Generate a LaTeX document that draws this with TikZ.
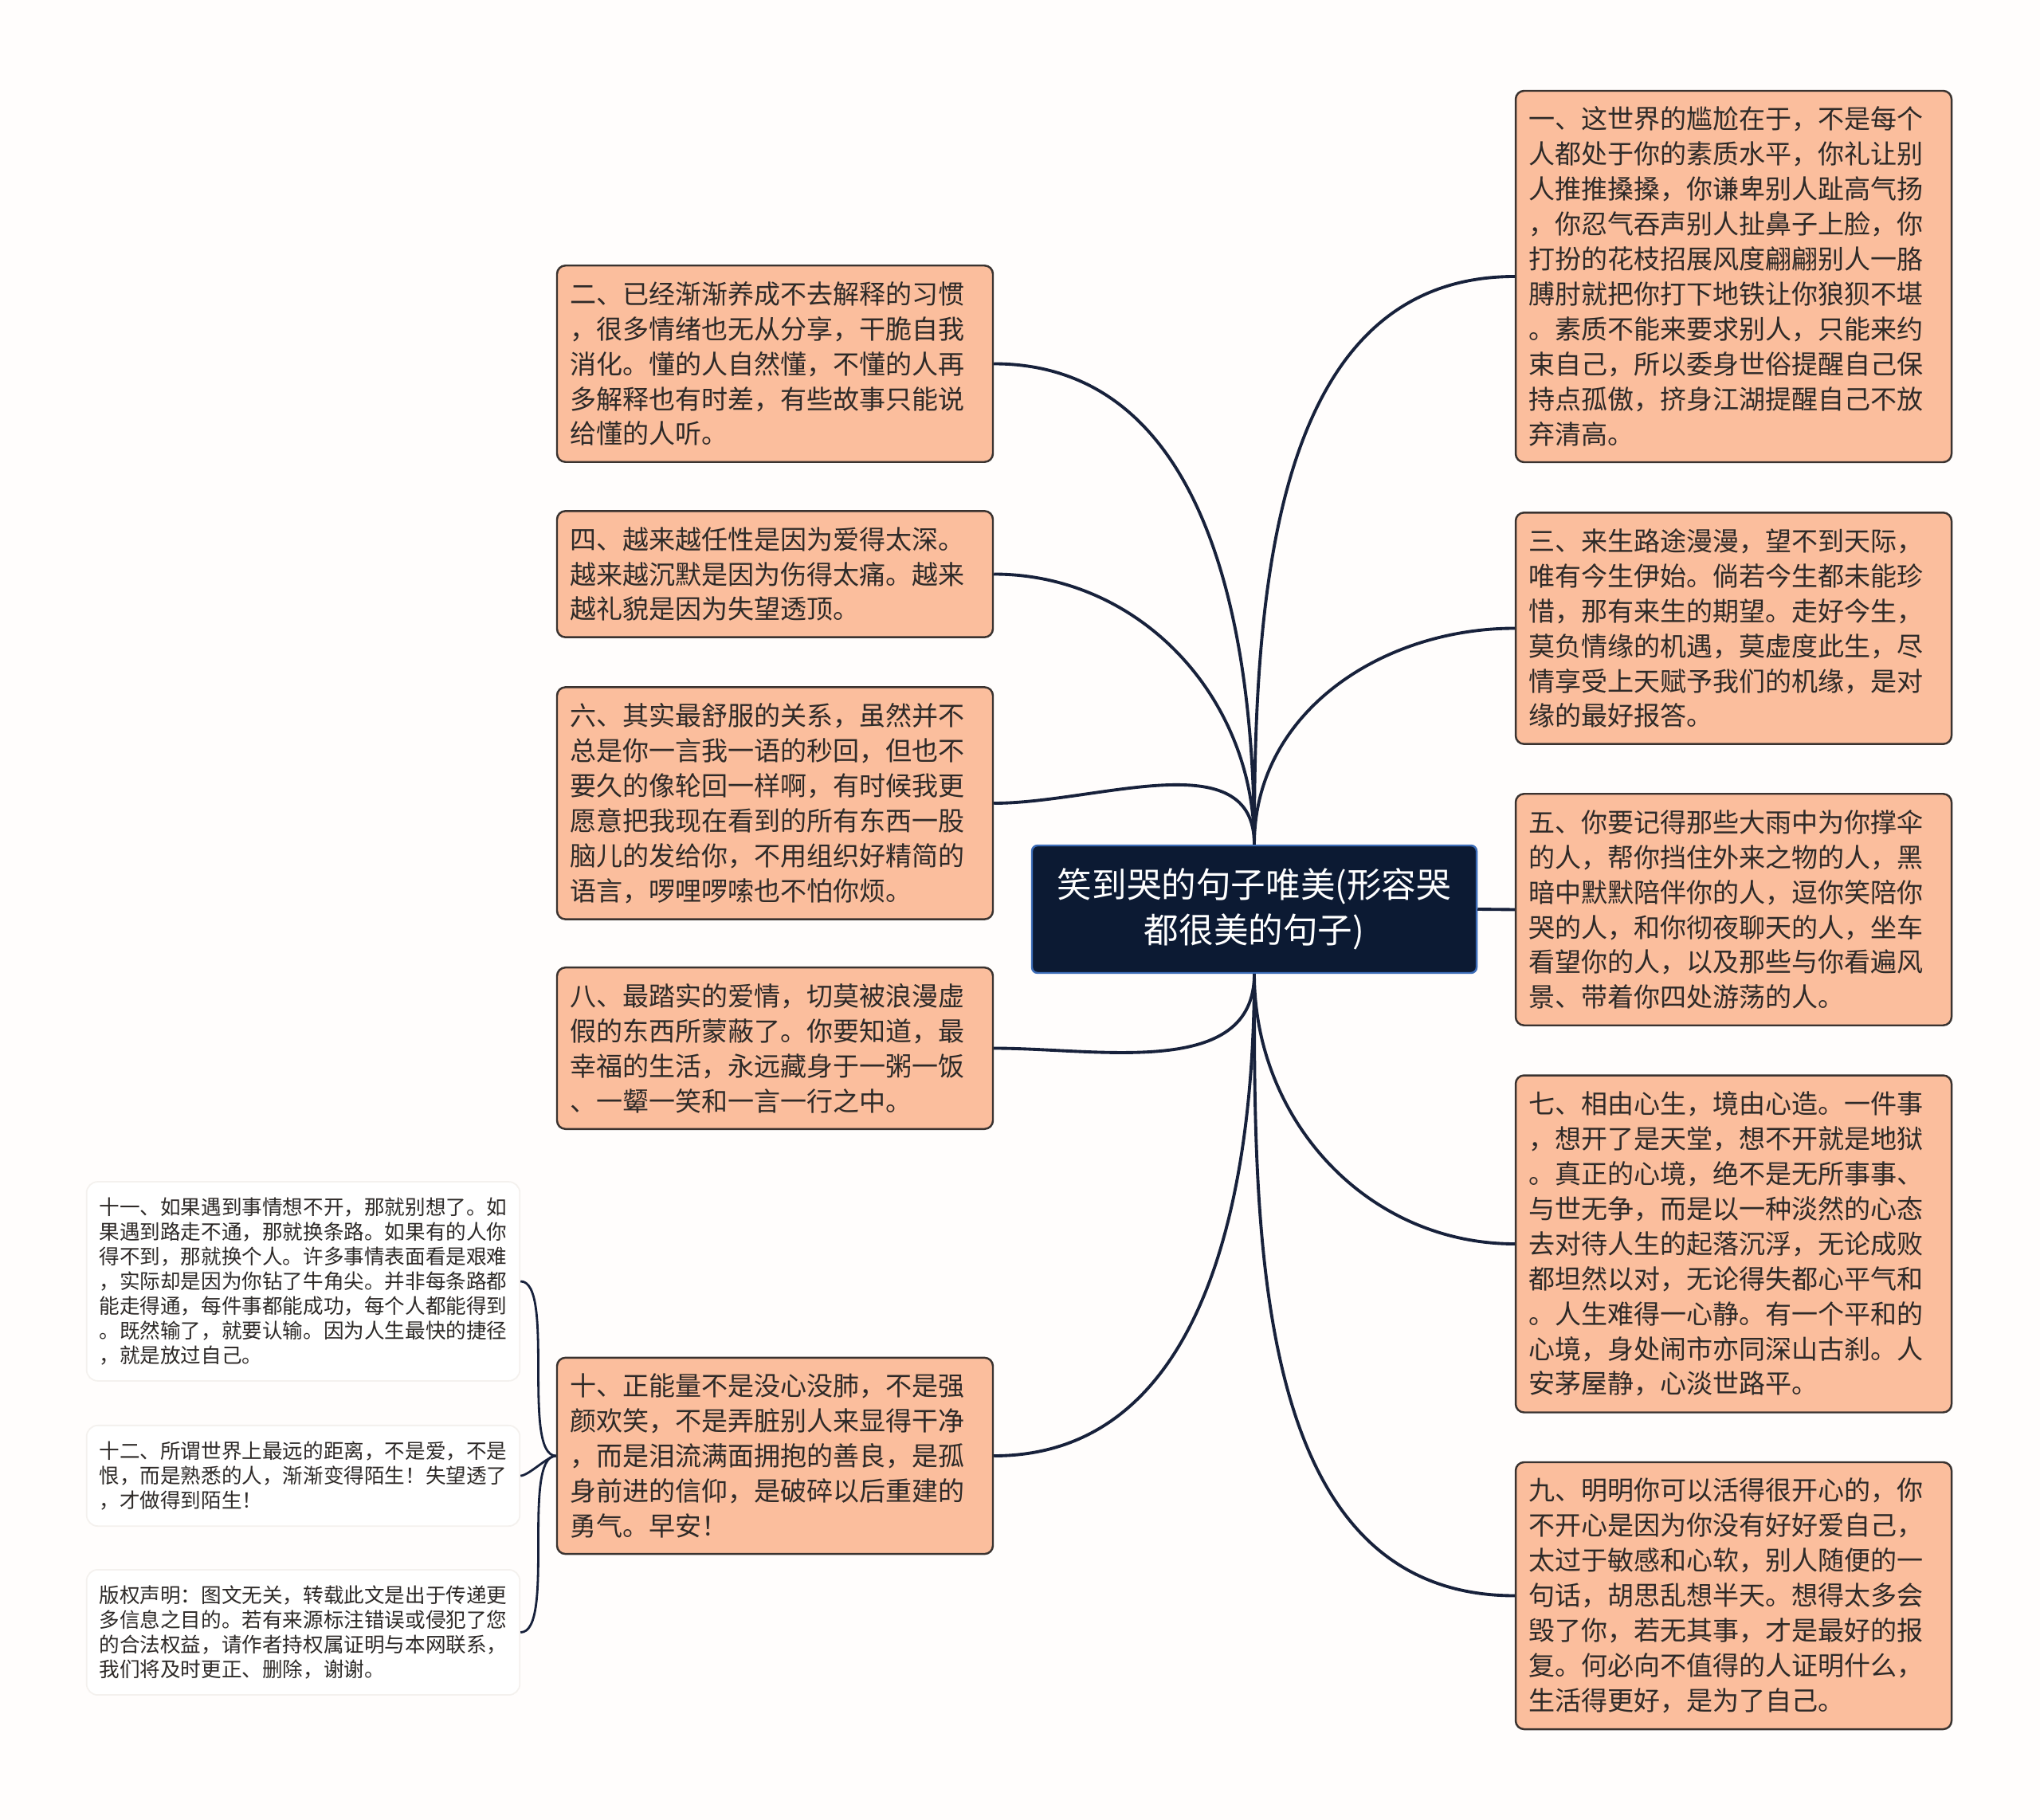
\documentclass[tikz,border=0pt]{standalone}
\usepackage{fontspec}
\newfontfamily\cjk{Noto Sans CJK SC}
\usetikzlibrary{positioning}
\definecolor{mapbg}{HTML}{FFFDFC}
\definecolor{leaffill}{HTML}{FBBE9D}
\definecolor{leafdraw}{HTML}{3A3330}
\definecolor{leaftext}{HTML}{2E2A28}
\definecolor{rootfill}{HTML}{0C1A33}
\definecolor{rootdraw}{HTML}{3D6DB8}
\definecolor{linkcol}{HTML}{17213B}
\definecolor{notedraw}{HTML}{F4F1EE}
\tikzset{
  % nodo centrale
  rootbox/.style={draw=rootdraw, line width=0.7pt, fill=rootfill, rounded corners=2pt,
    minimum width=5.58cm, minimum height=1.6cm, align=center, text=white,
    font=\cjk\fontsize{12.4pt}{16.2pt}\selectfont},
  % rami principali
  leaf/.style={draw=leafdraw, line width=0.7pt, fill=leaffill, rounded corners=3pt,
    text width=5.15cm, align=left, inner xsep=0.16cm, inner ysep=0.2cm, text=leaftext,
    font=\cjk\fontsize{9.4pt}{12.5pt}\selectfont},
  % note a sinistra
  note/.style={draw=notedraw, line width=0.5pt, fill=white, rounded corners=4pt,
    align=left, inner xsep=0.16cm, inner ysep=0.2cm, text=leaftext,
    font=\cjk\fontsize{7.28pt}{8.8pt}\selectfont},
  % collegamenti
  link/.style={draw=linkcol, line width=1.1pt},
  thinlink/.style={draw=linkcol, line width=0.8pt},
}
\begin{document}
\begin{tikzpicture}
  \fill[mapbg] (0,0) rectangle (25.6,-22.84);
  \useasboundingbox (0,0) rectangle (25.6,-22.84);
  % nodo centrale
  \node[rootbox] (root) at (15.74,-11.41) {笑到哭的句子唯美(形容哭\\都很美的句子)};
  % colonna sinistra
  \node[leaf] (two) at (9.725,-4.565) {二、已经渐渐养成不去解释的习惯\\，很多情绪也无从分享，干脆自我\\消化。懂的人自然懂，不懂的人再\\多解释也有时差，有些故事只能说\\给懂的人听。};
  \node[leaf] (four) at (9.725,-7.205) {四、越来越任性是因为爱得太深。\\越来越沉默是因为伤得太痛。越来\\越礼貌是因为失望透顶。};
  \node[leaf] (six) at (9.725,-10.08) {六、其实最舒服的关系，虽然并不\\总是你一言我一语的秒回，但也不\\要久的像轮回一样啊，有时候我更\\愿意把我现在看到的所有东西一股\\脑儿的发给你，不用组织好精简的\\语言，啰哩啰嗦也不怕你烦。};
  \node[leaf] (eight) at (9.725,-13.155) {八、最踏实的爱情，切莫被浪漫虚\\假的东西所蒙蔽了。你要知道，最\\幸福的生活，永远藏身于一粥一饭\\、一颦一笑和一言一行之中。};
  \node[leaf] (ten) at (9.725,-18.27) {十、正能量不是没心没肺，不是强\\颜欢笑，不是弄脏别人来显得干净\\，而是泪流满面拥抱的善良，是孤\\身前进的信仰，是破碎以后重建的\\勇气。早安！};
  % colonna destra
  \node[leaf] (one) at (21.755,-3.47) {一、这世界的尴尬在于，不是每个\\人都处于你的素质水平，你礼让别\\人推推搡搡，你谦卑别人趾高气扬\\，你忍气吞声别人扯鼻子上脸，你\\打扮的花枝招展风度翩翩别人一胳\\膊肘就把你打下地铁让你狼狈不堪\\。素质不能来要求别人，只能来约\\束自己，所以委身世俗提醒自己保\\持点孤傲，挤身江湖提醒自己不放\\弃清高。};
  \node[leaf] (three) at (21.755,-7.885) {三、来生路途漫漫，望不到天际，\\唯有今生伊始。倘若今生都未能珍\\惜，那有来生的期望。走好今生，\\莫负情缘的机遇，莫虚度此生，尽\\情享受上天赋予我们的机缘，是对\\缘的最好报答。};
  \node[leaf] (five) at (21.755,-11.415) {五、你要记得那些大雨中为你撑伞\\的人，帮你挡住外来之物的人，黑\\暗中默默陪伴你的人，逗你笑陪你\\哭的人，和你彻夜聊天的人，坐车\\看望你的人，以及那些与你看遍风\\景、带着你四处游荡的人。};
  \node[leaf] (seven) at (21.755,-15.61) {七、相由心生，境由心造。一件事\\，想开了是天堂，想不开就是地狱\\。真正的心境，绝不是无所事事、\\与世无争，而是以一种淡然的心态\\去对待人生的起落沉浮，无论成败\\都坦然以对，无论得失都心平气和\\。人生难得一心静。有一个平和的\\心境，身处闹市亦同深山古刹。人\\安茅屋静，心淡世路平。};
  \node[leaf] (nine) at (21.755,-20.025) {九、明明你可以活得很开心的，你\\不开心是因为你没有好好爱自己，\\太过于敏感和心软，别人随便的一\\句话，胡思乱想半天。想得太多会\\毁了你，若无其事，才是最好的报\\复。何必向不值得的人证明什么，\\生活得更好，是为了自己。};
  % note del ramo dieci
  \node[note] (eleven) at (3.805,-16.08) {十一、如果遇到事情想不开，那就别想了。如\\果遇到路走不通，那就换条路。如果有的人你\\得不到，那就换个人。许多事情表面看是艰难\\，实际却是因为你钻了牛角尖。并非每条路都\\能走得通，每件事都能成功，每个人都能得到\\。既然输了，就要认输。因为人生最快的捷径\\，就是放过自己。};
  \node[note] (twelve) at (3.805,-18.52) {十二、所谓世界上最远的距离，不是爱，不是\\恨，而是熟悉的人，渐渐变得陌生！失望透了\\，才做得到陌生！};
  \node[note] (notice) at (3.805,-20.485) {版权声明：图文无关，转载此文是出于传递更\\多信息之目的。若有来源标注错误或侵犯了您\\的合法权益，请作者持权属证明与本网联系，\\我们将及时更正、删除，谢谢。};
  % collegamenti
  \foreach \n in {two, four, six}
    \draw[link] (root.north) to[out=90, in=0] (\n.east);
  \foreach \n in {eight, ten}
    \draw[link] (root.south) to[out=-90, in=0] (\n.east);
  \foreach \n in {one, three}
    \draw[link] (root.north) to[out=90, in=180] (\n.west);
  \foreach \n in {seven, nine}
    \draw[link] (root.south) to[out=-90, in=180] (\n.west);
  \draw[link] (root.east) -- (five.west);
  \foreach \n in {eleven, twelve, notice}
    \draw[thinlink] (ten.west) to[out=180, in=0, looseness=0.5] (\n.east);
\end{tikzpicture}
\end{document}
